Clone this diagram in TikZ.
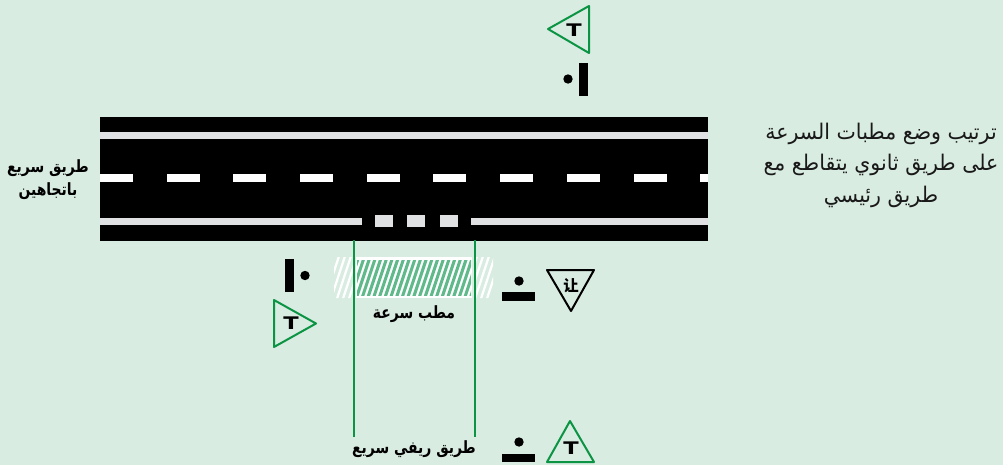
\documentclass[tikz,border=0pt]{standalone}
\usepackage{fontspec}
\setmainfont{Liberation Sans}
\newfontfamily\arabicfont[Script=Arabic]{DejaVu Sans}
\newfontfamily\cjkfont{Noto Sans CJK SC}
\TeXXeTstate=1
\definecolor{bgc}{HTML}{D9ECE1}
\definecolor{gline}{HTML}{0B9444}
\definecolor{hatchg}{HTML}{5FB98A}
\definecolor{lane}{HTML}{E0E1E2}
\tikzset{
  road/.style={fill=black,draw=none},
  lanepiece/.style={fill=lane,draw=none},
  dashpiece/.style={fill=white,draw=none},
  greensign/.style={draw=gline,line width=1.5pt,line join=round,fill=none},
  blacksign/.style={draw=black,line width=1.5pt,line join=round,fill=none},
  postbar/.style={fill=black,draw=none},
  postdot/.style={fill=black,draw=none},
  sidelab/.style={font=\arabicfont\bfseries\fontsize{11}{14}\selectfont,align=center,inner sep=0pt,text=black,xscale=.95,yscale=1.15},
  mainlab/.style={font=\arabicfont\fontsize{15.4}{22.5}\selectfont,align=center,inner sep=0pt,text=black!90,yscale=1.05},
  tlab/.style={font=\arabicfont\bfseries\fontsize{13}{14}\selectfont,inner sep=0pt,xscale=1.3,text=black},
  guide/.style={draw=gline,line width=1.3pt},
}
\begin{document}
\begin{tikzpicture}[x=0.75pt,y=-0.75pt]
\useasboundingbox (0,0) rectangle (1003,465);
\fill[bgc] (0,0) rectangle (1003,465);
% road
\fill[road] (100,117) rectangle (708,241);
\fill[lanepiece] (100,132) rectangle (708,139);
\foreach \a in {100,167,233,300,367,433,500,567,634}
  \fill[dashpiece] (\a,174) rectangle ++(33,8);
\fill[dashpiece] (700,174) rectangle (708,182);
\fill[lanepiece] (100,218) rectangle (362,225);
\fill[lanepiece] (471,218) rectangle (708,225);
\foreach \a/\b in {375/393,407/425,440/458}
  \fill[lanepiece] (\a,215) rectangle (\b,227);
% bump hatch
\begin{scope}
  \clip (334,257) rectangle (354,298);
  \foreach \a in {318,324,...,360}
    \fill[white] (\a,298) -- (\a+2.4,298) -- (\a+15.9,257) -- (\a+13.5,257) -- cycle;
\end{scope}
\begin{scope}
  \clip (475,257) rectangle (493,298);
  \foreach \a in {462,468,...,486}
    \fill[white] (\a,298) -- (\a+2.4,298) -- (\a+15.9,257) -- (\a+13.5,257) -- cycle;
\end{scope}
\fill[white] (356,257) rectangle (472,298);
\begin{scope}
  \clip (357,260) rectangle (471,295.5);
  \foreach \a in {344,349.7,...,472}
    \fill[hatchg] (\a,296) -- (\a+3.2,296) -- (\a+15.2,260) -- (\a+12,260) -- cycle;
\end{scope}
% guides
\draw[guide] (354,240) -- (354,437);
\draw[guide] (475,240) -- (475,437);
% signs
\draw[greensign] (548,29) -- (589,6) -- (589,53) -- cycle;
\node[tlab] (t1) at (574,30.5) {T};
\fill[postbar] (579,63) rectangle (588,96);
\fill[postdot] (568,79) circle (4.7);
\fill[postbar] (285,259) rectangle (294,292);
\fill[postdot] (305,275.5) circle (4.7);
\draw[greensign] (274,300) -- (316,323.5) -- (274,347) -- cycle;
\node[tlab] (t2) at (291,323.5) {T};
\fill[postbar] (502,292) rectangle (535,301);
\fill[postdot] (519,281) circle (4.7);
\draw[blacksign] (547,270) -- (594,270) -- (571,311) -- cycle;
\node[font=\cjkfont\bfseries\fontsize{11.5}{12}\selectfont,inner sep=0pt] (y1) at (571,286) {让};
\fill[postbar] (502,454) rectangle (535,462);
\fill[postdot] (519,442) circle (4.7);
\draw[greensign] (570,421) -- (594,462) -- (547,462) -- cycle;
\node[tlab] (t3) at (571,448.5) {T};
% labels
\node[sidelab] (lb1) at (414,314) {\beginR مطب سرعة\endR};
\node[sidelab] (lb2) at (414,449) {\beginR طريق ريفي سريع\endR};
\node[sidelab] (lb3) at (48,180) {\beginR طريق سريع\endR\\[1pt]\beginR باتجاهين\endR};
\node[mainlab] (lb4) at (881,165) {\beginR ترتيب وضع مطبات السرعة\endR\\\beginR على طريق ثانوي يتقاطع مع\endR\\\beginR طريق رئيسي\endR};
\end{tikzpicture}
\end{document}
